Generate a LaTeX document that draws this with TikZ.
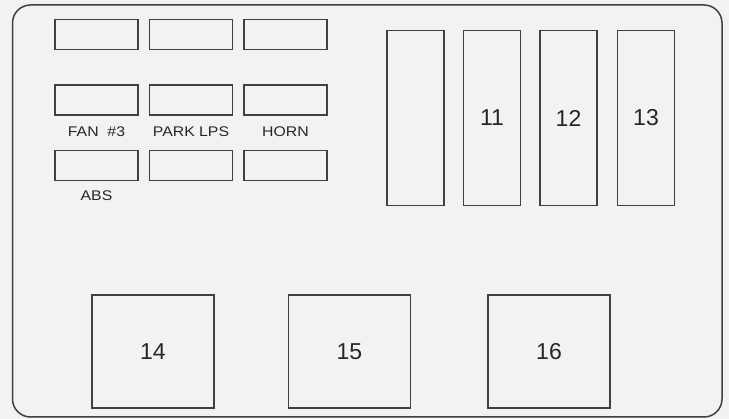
\documentclass[tikz,border=0pt]{standalone}
\usepackage{graphicx}
\usepackage{fontspec}
\setmainfont{Liberation Sans}
\usetikzlibrary{positioning}

\begin{document}
\begin{tikzpicture}[
    x=1pt, y=-1pt,
    line width=1.5pt,
    every node/.style={inner sep=0pt},
    fuse/.style={draw=black!75, rectangle, minimum width=83pt, minimum height=30pt},
    relay/.style={draw=black!75, rectangle, minimum width=57pt, minimum height=175pt, text=black!85, font=\fontsize{23}{26}\selectfont},
    block/.style={draw=black!75, rectangle, minimum width=122pt, minimum height=113pt, text=black!85, font=\fontsize{23}{26}\selectfont},
    tag/.style={text=black!85, font=\fontsize{14}{16}\selectfont}
]
\fill[black!5] (0,0) rectangle (729,419);
\useasboundingbox (0,0) rectangle (729,419);
\draw[black!75, rounded corners=18pt] (12.5,5) rectangle (722,417);

% small fuses
\node (f1) [fuse] at (96.5,34.5) {};
\node (f2) [fuse, right=10pt of f1] {};
\node (f3) [fuse, right=10pt of f2] {};
\node (f4) [fuse, below=34pt of f1] {};
\node (f5) [fuse, right=10pt of f4] {};
\node (f6) [fuse, right=10pt of f5] {};
\node (f7) [fuse, below=34pt of f4] {};
\node (f8) [fuse, right=10pt of f7] {};
\node (f9) [fuse, right=10pt of f8] {};

\node (fan) [tag, below=10pt of f4] {\scalebox{1.13}[1]{FAN\ \ \#3}};
\node (park) [tag, below=10pt of f5] {\scalebox{1.13}[1]{PARK LPS}};
\node (horn) [tag, below=10pt of f6] {\scalebox{1.13}[1]{HORN}};
\node (abs) [tag, below=8.5pt of f7] {\scalebox{1.13}[1]{ABS}};

% relays
\node (r10) [relay] at (415.5,118) {};
\node (r11) [relay, right=18pt of r10] {11};
\node (r12) [relay, right=18pt of r11] {12};
\node (r13) [relay, right=19pt of r12] {13};

% large relays
\node (r14) [block] at (153,351.5) {14};
\node (r15) [block, right=73pt of r14] {15};
\node (r16) [block, right=76pt of r15] {16};

\end{tikzpicture}
\end{document}
